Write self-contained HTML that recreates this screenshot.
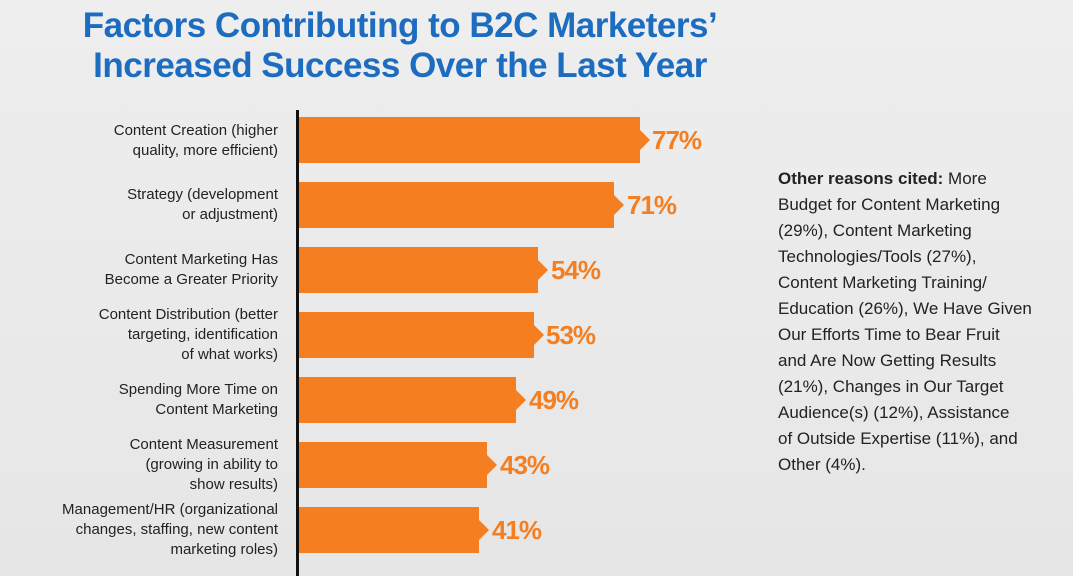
<!DOCTYPE html>
<html><head><style>
body{margin:0;width:1073px;height:576px;background:linear-gradient(#eeeeee,#e6e6e6);font-family:"Liberation Sans",sans-serif;position:relative;overflow:hidden}
.t{position:absolute;left:0;width:800px;text-align:center;color:#1c6cc0;font-weight:bold;font-size:35px;line-height:40px;top:6px;letter-spacing:-0.5px}
.ax{position:absolute;left:296px;top:110px;width:3px;height:466px;background:#111}
.bar{position:absolute;left:299px;height:46px;background:#f47e20}
.bar:after{content:"";position:absolute;right:-10px;top:13px;border-left:10px solid #f47e20;border-top:10px solid transparent;border-bottom:10px solid transparent}
.v{position:absolute;color:#f47e20;font-weight:bold;font-size:26px;line-height:46px;letter-spacing:-1px}
.l{position:absolute;right:795px;text-align:right;font-size:15px;line-height:20px;color:#222}
.o{position:absolute;left:778px;top:166px;width:258px;font-size:17px;line-height:26px;color:#222}
</style></head><body>
<div class="t">Factors Contributing to B2C Marketers’<br>Increased Success Over the Last Year</div>
<div class="ax"></div>
<div class="bar" style="top:117px;width:341px"></div><div class="v" style="top:117px;left:652px">77%</div>
<div class="bar" style="top:182px;width:315px"></div><div class="v" style="top:182px;left:627px">71%</div>
<div class="bar" style="top:247px;width:239px"></div><div class="v" style="top:247px;left:551px">54%</div>
<div class="bar" style="top:312px;width:235px"></div><div class="v" style="top:312px;left:546px">53%</div>
<div class="bar" style="top:377px;width:217px"></div><div class="v" style="top:377px;left:529px">49%</div>
<div class="bar" style="top:442px;width:188px"></div><div class="v" style="top:442px;left:500px">43%</div>
<div class="bar" style="top:507px;width:180px"></div><div class="v" style="top:507px;left:492px">41%</div>
<div class="l" style="top:121px">Content Creation (higher<br>quality, more efficient)</div>
<div class="l" style="top:185px">Strategy (development<br>or adjustment)</div>
<div class="l" style="top:250px">Content Marketing Has<br>Become a Greater Priority</div>
<div class="l" style="top:305px">Content Distribution (better<br>targeting, identification<br>of what works)</div>
<div class="l" style="top:380px">Spending More Time on<br>Content Marketing</div>
<div class="l" style="top:435px">Content Measurement<br>(growing in ability to<br>show results)</div>
<div class="l" style="top:500px">Management/HR (organizational<br>changes, staffing, new content<br>marketing roles)</div>
<div class="o"><b>Other reasons cited:</b> More<br>Budget for Content Marketing<br>(29%), Content Marketing<br>Technologies/Tools (27%),<br>Content Marketing Training/<br>Education (26%), We Have Given<br>Our Efforts Time to Bear Fruit<br>and Are Now Getting Results<br>(21%), Changes in Our Target<br>Audience(s) (12%), Assistance<br>of Outside Expertise (11%), and<br>Other (4%).</div>
</body></html>
